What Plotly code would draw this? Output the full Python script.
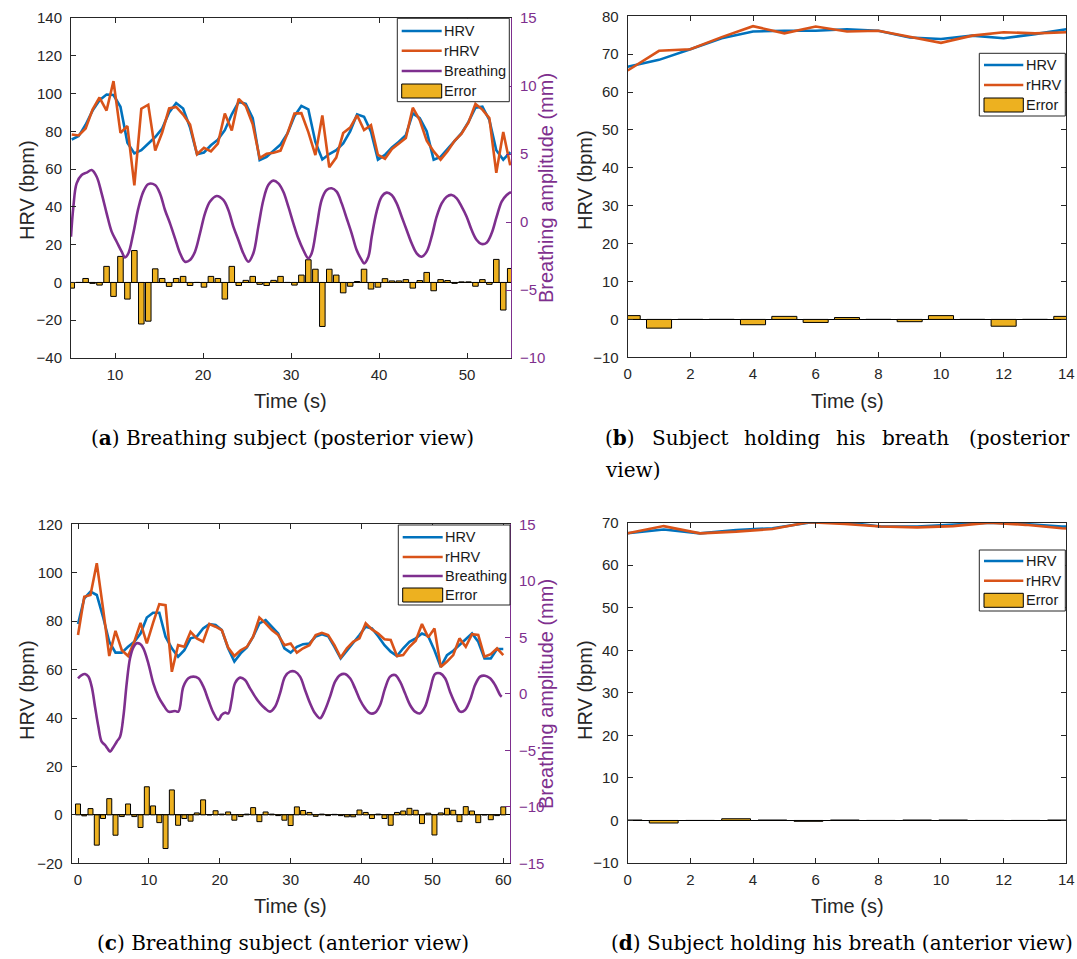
import plotly.graph_objects as go

# ---------------- data ----------------
# Panel (a): breathing subject, posterior view
t_a = [5.08, 5.87, 6.66, 7.45, 8.24, 9.04, 9.83, 10.62, 11.41, 12.20, 12.99, 13.78, 14.57, 15.36, 16.15, 16.95,
       17.74, 18.53, 19.32, 20.11, 20.90, 21.69, 22.48, 23.27, 24.06, 24.86, 25.65, 26.44, 27.23, 28.02, 28.81, 29.60,
       30.39, 31.18, 31.97, 32.77, 33.56, 34.35, 35.14, 35.93, 36.72, 37.51, 38.30, 39.09, 39.88, 40.68, 41.47, 42.26,
       43.05, 43.84, 44.63, 45.42, 46.21, 47.00, 47.79, 48.59, 49.38, 50.17, 50.96, 51.75, 52.54, 53.33, 54.12, 54.91]
hrv_a = [75.7, 77.5, 83.5, 91, 96.5, 99.5, 99.2, 93, 74, 68.3, 70, 73.6, 77, 81.5, 90, 95,
         92.1, 82, 67.9, 68.8, 72.6, 75.6, 80.6, 89, 95.6, 94.5, 87, 64.8, 66.5, 69.8, 73, 78.9,
         88, 93.5, 91.6, 74.4, 65.1, 68, 70, 73.6, 80, 89, 87.7, 79.8, 65, 67.5, 71.5, 74.5,
         78, 89.5, 87, 80, 65, 66.5, 70.5, 74.5, 79, 85, 92.5, 93, 86, 70, 65, 69]
rhrv_a = [78.3, 77.8, 81.5, 91.5, 97.9, 91, 106.6, 79.2, 82.8, 51.4, 92, 94.1, 69.8, 79.4, 92.1, 92.9,
          88.9, 83.6, 67.9, 71.3, 69.4, 73.5, 89.4, 80.5, 97.2, 93.4, 83.8, 65.8, 68.1, 68.7, 69.8, 78.9,
          89.4, 89.6, 79.6, 67.4, 88.4, 61, 66.1, 79.1, 82, 88.5, 80.7, 83.3, 67.5, 65.5, 70.7, 73.7,
          76.5, 92.5, 86, 75, 69.4, 65, 69.5, 75, 78.7, 84.7, 94.5, 91.5, 87, 58, 79.6, 62]
err_a = [-3, 0, 2.1, -0.5, -1.4, 8.5, -7.4, 13.8, -8.8, 16.9, -22, -20.5, 7.2, 2.1, -2.1, 2.1,
         3.2, -1.6, 0, -2.5, 3.2, 2.1, -8.8, 8.5, -1.6, 1.1, 3.2, -1, -1.6, 1.1, 3.2, 0,
         -1.4, 3.9, 12, 7, -23.3, 7, 3.9, -5.5, -2, 0.5, 7, -3.5, -2.5, 2, 0.8, 0.8,
         1.5, -3, 1, 5.3, -4.4, 1.5, 1, -0.5, 0.3, 0.3, -2, 1.5, -1, 12.2, -14.6, 7.4]
br_t_a = [5.0, 5.27, 5.64, 6.21, 6.78, 7.35, 7.92, 8.48, 9.05, 9.62, 10.19, 10.76, 11.14, 11.52, 12.08, 12.65,
          13.22, 13.79, 14.55, 15.11, 15.68, 16.25, 16.82, 17.39, 17.95, 18.52, 19.09, 19.66, 20.23, 20.80, 21.55,
          22.31, 22.88, 23.45, 24.02, 24.58, 25.15, 25.72, 26.29, 26.86, 27.42, 27.99, 28.56, 29.13, 29.70, 30.27,
          30.83, 31.40, 31.97, 32.35, 32.92, 33.48, 34.05, 34.62, 35.19, 35.76, 36.33, 36.89, 37.46, 38.03, 38.30,
          38.79, 39.17, 39.73, 40.30, 40.87, 41.44, 42.01, 42.58, 43.14, 43.71, 44.28, 44.85, 45.42, 45.98, 46.55,
          47.12, 47.69, 48.26, 48.83, 49.39, 49.96, 50.53, 51.10, 51.67, 52.23, 52.80, 53.37, 53.94, 54.51, 54.89, 55.0]
br_v_a = [-1.08, 1.13, 2.84, 3.46, 3.63, 3.82, 3.33, 2.1, 0.64, -0.71, -1.45, -2.18, -2.6, -2.3, -0.83, 1.0,
          2.23, 2.79, 2.72, 2.1, 0.88, -0.1, -1.2, -2.3, -2.92, -2.8, -2.18, -0.83, 0.64, 1.5, 1.91,
          1.62, 0.88, -0.34, -1.32, -2.3, -2.92, -2.3, -0.34, 1.62, 2.72, 3.04, 2.84, 2.23, 1.13, -0.1,
          -1.2, -2.06, -2.67, -2.3, -0.34, 1.62, 2.35, 2.48, 2.23, 1.37, 0.27, -0.83, -2.06, -2.79, -3.04,
          -2.55, -1.08, 0.76, 1.86, 2.16, 1.99, 1.37, 0.39, -0.59, -1.57, -2.3, -2.55, -2.18, -1.08, 0.39,
          1.37, 1.86, 1.99, 1.74, 1.13, 0.39, -0.59, -1.32, -1.62, -1.52, -0.83, 0.39, 1.5, 1.99, 2.16, 2.2]

# Panel (b): subject holding breath, posterior view
t_b = [0, 1, 2, 3, 4, 5, 6, 7, 8, 9, 10, 11, 12, 13, 14]
hrv_b = [66.7, 68.5, 71.3, 74.2, 76, 76.2, 76.2, 76.6, 76.2, 74.4, 74, 74.9, 74.2, 75.3, 76.6]
rhrv_b = [65.7, 70.9, 71.3, 74.5, 77.4, 75.5, 77.3, 76, 76.2, 74.6, 73, 74.9, 75.8, 75.5, 75.8]
err_b = [1.0, -2.3, 0, 0, -1.4, 0.8, -0.8, 0.5, 0, -0.6, 1.0, 0, -1.8, 0, 0.8]

# Panel (c): breathing subject, anterior view
t_c = [0, 0.88, 1.76, 2.65, 3.53, 4.41, 5.29, 6.18, 7.06, 7.94, 8.82, 9.71, 10.59, 11.47, 12.35, 13.24, 14.12,
       15.00, 15.88, 16.76, 17.65, 18.53, 19.41, 20.29, 21.18, 22.06, 22.94, 23.82, 24.71, 25.59, 26.47, 27.35,
       28.24, 29.12, 30.00, 30.88, 31.76, 32.65, 33.53, 34.41, 35.29, 36.18, 37.06, 37.94, 38.82, 39.71, 40.59,
       41.47, 42.35, 43.24, 44.12, 45.00, 45.88, 46.76, 47.65, 48.53, 49.41, 50.29, 51.18, 52.06, 52.94, 53.82,
       54.71, 55.59, 56.47, 57.35, 58.24, 59.12, 60.00]
hrv_c = [78.8, 89.4, 92.2, 90.8, 81.8, 71.5, 67, 67, 69.4, 71.5, 74.9, 81.5, 83.5, 83.5, 73.6, 68.8, 65.3,
         68, 72.9, 73.6, 77, 78.8, 78.4, 76.3, 68.8, 63.3, 66.7, 69.1, 73.6, 79.1, 80.4, 77.7,
         74.9, 68.8, 67, 69.4, 70.5, 70.8, 73.6, 74.6, 73.8, 69.4, 64.6, 67.8, 70.8, 74.3, 77.7,
         77, 73.8, 70.1, 67.4, 65.6, 68.8, 71.5, 72.9, 74.9, 73.8, 68, 61.1, 66, 67.8, 70.1,
         72.2, 74.9, 71.5, 64.6, 64.6, 68.5, 68.5]
rhrv_c = [74.3, 90.1, 90.8, 103.9, 85.3, 65.6, 76, 68, 65.6, 71.5, 79.3, 70.8, 79.3, 87, 86.6, 59.1, 70.1,
          69.4, 75.6, 72.9, 71.5, 78.8, 77.7, 76.3, 69.1, 65.6, 68, 69.4, 73.6, 81.5, 79.1, 76.3,
          74.3, 70.1, 70.8, 67, 68.8, 70.1, 74.3, 75.2, 74.3, 70.1, 65, 68.8, 71.5, 72.9, 79.1,
          76.6, 74.9, 72.5, 72.2, 65.6, 66, 69.4, 71.9, 78.8, 73.3, 77, 61.1, 63.3, 66, 72.9,
          69.4, 74.6, 74.3, 65.3, 66.4, 68.8, 66]
err_c = [4.5, -0.4, 2.6, -12.5, -1.5, 6.7, -8.4, -0.7, 4.5, -0.7, -5.2, 11.6, 3.7, -3.2, -13.9, 10.3, -4.3,
         -1.5, -2.6, 0.8, 6.2, 0, 1.7, 0.3, 1.2, -2.2, -0.7, 0.3, 3, -2.8, 1.2, 0.3,
         -0.3, -2.2, -4.4, 3.3, 1.8, 1.0, -0.6, 0.3, -0.3, 0.2, -0.3, -0.8, -0.8, 2.0, 1.0,
         -1.5, 0.3, -1.5, -4.3, 1.0, 1.6, 2.7, 1.9, -3.6, 0.7, -8.3, 0.8, 2.7, 1.9, -2.8,
         3.4, 1.6, -3.2, 0, -2.0, -0.3, 3.3]
br_t_c = [0, 0.52, 0.99, 1.46, 1.93, 2.40, 2.87, 3.34, 3.81, 4.14, 4.52, 4.89, 5.46, 5.93, 6.40, 6.87, 7.34,
          7.81, 8.28, 8.75, 9.22, 9.92, 10.63, 11.34, 12.04, 12.75, 13.22, 13.69, 14.16, 14.86, 15.57, 16.27,
          16.98, 17.69, 18.39, 19.10, 19.80, 20.27, 20.74, 21.21, 21.68, 22.15, 22.86, 23.57, 24.27, 24.98,
          25.68, 26.39, 27.09, 27.80, 28.50, 29.21, 29.92, 30.62, 31.33, 32.03, 32.74, 33.44, 34.15, 34.85,
          35.56, 36.27, 36.97, 37.68, 38.38, 39.09, 39.79, 40.50, 41.20, 41.91, 42.62, 43.32, 44.03, 44.73,
          45.44, 46.14, 46.85, 47.55, 48.26, 48.97, 49.67, 50.38, 51.08, 51.79, 52.49, 53.20, 53.91, 54.61,
          55.32, 56.02, 56.73, 57.43, 58.14, 58.84, 59.55, 59.78]
br_v_c = [1.37, 1.66, 1.75, 1.52, 0.63, -1.14, -2.9, -4.24, -4.53, -4.82, -5.12, -4.82, -4.24, -3.8, -2.02, 0.93, 3.14,
          4.11, 4.47, 4.41, 4.02, 2.7, 0.93, -0.25, -0.99, -1.58, -1.58, -1.52, -1.58, 0.63, 1.37, 1.52,
          1.37, 0.63, -0.55, -1.67, -2.32, -1.87, -1.67, -1.73, -0.55, 0.93, 1.43, 1.22, 0.48, -0.25,
          -0.84, -1.29, -1.58, -1.14, 0.04, 1.52, 1.96, 1.96, 1.52, 0.34, -0.84, -1.73, -2.17, -1.43,
          -0.25, 1.07, 1.66, 1.75, 1.37, 0.48, -0.55, -1.29, -1.73, -1.67, -0.99, 0.48, 1.52, 1.66,
          1.07, 0.04, -0.99, -1.58, -1.73, -1.14, 0.34, 1.75, 1.81, 1.37, 0.19, -0.84, -1.58, -1.43,
          -0.55, 0.78, 1.52, 1.6, 1.37, 0.78, -0.1, -0.25]

# Panel (d): subject holding breath, anterior view
t_d = [0, 1.15, 2.31, 3.46, 4.62, 5.77, 6.93, 8.08, 9.24, 10.39, 11.55, 12.70, 13.86, 15.01]
hrv_d = [67.5, 68.4, 67.5, 68.3, 68.7, 70, 70.1, 69.1, 69.1, 69.5, 70, 69.7, 69.1, 68.9]
rhrv_d = [67.5, 69.2, 67.5, 67.9, 68.5, 70.1, 69.7, 69.1, 68.9, 69.2, 70, 69.5, 68.7, 68.3]
err_d = [0.1, -0.6, 0, 0.4, 0.1, -0.2, 0.1, 0, 0.1, 0.1, 0, 0, 0.1, 0]

# tick values
xt_a = [10, 20, 30, 40, 50]
yt_a = [-40, -20, 0, 20, 40, 60, 80, 100, 120, 140]
y2t_a = [-10, -5, 0, 5, 10, 15]
xt_bd = [0, 2, 4, 6, 8, 10, 12, 14]
yt_b = [-10, 0, 10, 20, 30, 40, 50, 60, 70, 80]
xt_c = [0, 10, 20, 30, 40, 50, 60]
yt_c = [-20, 0, 20, 40, 60, 80, 100, 120]
y2t_c = [-15, -10, -5, 0, 5, 10, 15]
yt_d = [-10, 0, 10, 20, 30, 40, 50, 60, 70]

# ---------------- style ----------------
W, H = 1077, 959
BLUE, ORANGE, PURPLE, YELLOW, AX = '#0072BD', '#D95319', '#7E2F8E', '#EDB120', '#262626'
SANS = 'Liberation Sans, Arial, sans-serif'
SERIF = 'DejaVu Serif, serif'
LW = 2.6


def fx(p):
    return p / W


def fy(p):
    return 1 - p / H


fig = go.Figure()


def add_panel(xa, ya, t, hrv, rhrv, err, bw):
    fig.add_trace(go.Bar(x=t, y=err, width=bw, marker=dict(color=YELLOW, line=dict(color='black', width=1)),
                         xaxis=xa, yaxis=ya))
    fig.add_trace(go.Scatter(x=t, y=hrv, mode='lines', line=dict(color=BLUE, width=LW), xaxis=xa, yaxis=ya))
    fig.add_trace(go.Scatter(x=t, y=rhrv, mode='lines', line=dict(color=ORANGE, width=LW), xaxis=xa, yaxis=ya))


add_panel('x', 'y', t_a, hrv_a, rhrv_a, err_a, 0.63)
fig.add_trace(go.Scatter(x=br_t_a, y=br_v_a, mode='lines', line=dict(color=PURPLE, width=LW, shape='spline'),
                         xaxis='x', yaxis='y2'))
add_panel('x2', 'y3', t_b, hrv_b, rhrv_b, err_b, 0.8)
add_panel('x3', 'y4', t_c, hrv_c, rhrv_c, err_c, 0.7)
fig.add_trace(go.Scatter(x=br_t_c, y=br_v_c, mode='lines', line=dict(color=PURPLE, width=LW, shape='spline'),
                         xaxis='x3', yaxis='y5'))
add_panel('x4', 'y6', t_d, hrv_d, rhrv_d, err_d, 0.92)

base = dict(showgrid=False, showline=True, linecolor=AX, linewidth=1, ticks='inside', ticklen=5,
            tickcolor=AX, tickfont=dict(family=SANS, size=15, color=AX), zeroline=False, automargin=False)


def xax(dom, rng, tv, anchor):
    d = dict(base)
    d.update(domain=[fx(dom[0]), fx(dom[1])], range=rng, tickvals=tv, anchor=anchor, mirror='ticks',
             ticklabelstandoff=3)
    return d


def yax(dom, rng, tv, anchor, mirror):
    d = dict(base)
    d.update(domain=[fy(dom[1]), fy(dom[0])], range=rng, tickvals=tv, anchor=anchor, mirror=mirror,
             zeroline=True, zerolinecolor='black', zerolinewidth=1, ticklabelstandoff=5)
    return d


def yright(rng, tv, anchor, over):
    d = dict(base)
    d.update(range=rng, tickvals=tv, anchor=anchor, overlaying=over, side='right', linecolor=PURPLE,
             tickcolor=PURPLE, tickfont=dict(family=SANS, size=15, color=PURPLE), ticklabelstandoff=5)
    return d


fig.update_layout(
    template='none',
    width=W, height=H, margin=dict(l=0, r=0, t=0, b=0, autoexpand=False),
    paper_bgcolor='white', plot_bgcolor='white', showlegend=False,
    xaxis=xax((71, 511), [5, 55], xt_a, 'y'),
    yaxis=yax((18, 358), [-40, 140], yt_a, 'x', False),
    yaxis2=yright([-10, 15], y2t_a, 'x', 'y'),
    xaxis2=xax((627.7, 1066.3), [0, 14], xt_bd, 'y3'),
    yaxis3=yax((16.3, 357.3), [-10, 80], yt_b, 'x2', 'ticks'),
    xaxis3=xax((71.7, 510), [-0.89, 60.95], xt_c, 'y4'),
    yaxis4=yax((524.3, 863.3), [-20, 120], yt_c, 'x3', False),
    yaxis5=yright([-15, 15], y2t_c, 'x3', 'y4'),
    xaxis4=xax((627.7, 1066.3), [0, 14], xt_bd, 'y6'),
    yaxis6=yax((522.7, 863), [-10, 70], yt_d, 'x4', 'ticks'),
)

ann = []
shapes = []


def text(x, y, s, size=20, color=AX, angle=0, anchor='center', family=SANS):
    ann.append(dict(x=fx(x), y=fy(y), xref='paper', yref='paper', text=s, showarrow=False,
                    textangle=angle, xanchor=anchor, yanchor='middle',
                    font=dict(family=family, size=size, color=color)))


# axis titles
text(27, 190, 'HRV (bpm)', angle=-90)
text(291, 401, 'Time (s)')
text(546, 188, 'Breathing amplitude (mm)', angle=-90, color=PURPLE)
text(585, 180, 'HRV (bpm)', angle=-90)
text(847, 401, 'Time (s)')
text(27, 690, 'HRV (bpm)', angle=-90)
text(291, 906, 'Time (s)')
text(546, 694, 'Breathing amplitude (mm)', angle=-90, color=PURPLE)
text(585, 690, 'HRV (bpm)', angle=-90)
text(847, 906, 'Time (s)')


# legends
def legend(x0, x1, y0, y1, lx0, lx1, tx, rows):
    shapes.append(dict(type='rect', xref='paper', yref='paper', x0=fx(x0), x1=fx(x1), y0=fy(y1), y1=fy(y0),
                       fillcolor='white', line=dict(color=AX, width=1), layer='above'))
    for name, color, yy in rows:
        if name == 'Error':
            shapes.append(dict(type='rect', xref='paper', yref='paper', x0=fx(lx0), x1=fx(lx1),
                               y0=fy(yy + 7), y1=fy(yy - 7), fillcolor=YELLOW,
                               line=dict(color='black', width=1), layer='above'))
        else:
            shapes.append(dict(type='line', xref='paper', yref='paper', x0=fx(lx0), x1=fx(lx1),
                               y0=fy(yy), y1=fy(yy), line=dict(color=color, width=LW), layer='above'))
        text(tx, yy, name, size=14.5, color='#1a1a1a', anchor='left')


legend(397.3, 509.3, 18.3, 101.7, 401.7, 441.7, 441.5,
       [('HRV', BLUE, 31), ('rHRV', ORANGE, 50.7), ('Breathing', PURPLE, 71), ('Error', None, 91)])
legend(979.3, 1065.3, 53.3, 116, 984, 1023.3, 1023.5,
       [('HRV', BLUE, 65), ('rHRV', ORANGE, 85), ('Error', None, 105)])
legend(398.3, 510, 525, 605, 402.7, 442.7, 442.5,
       [('HRV', BLUE, 537.3), ('rHRV', ORANGE, 557), ('Breathing', PURPLE, 576), ('Error', None, 595)])
legend(979.3, 1065.3, 550, 611, 984, 1023.3, 1023.5,
       [('HRV', BLUE, 561), ('rHRV', ORANGE, 580.7), ('Error', None, 600.3)])

# captions
CS = 20
text(282, 438, '(<b>a</b>) Breathing subject (posterior view)', size=CS, color='black', family=SERIF)
for word, xw in [('(<b>b</b>)', 603), ('Subject', 650), ('holding', 742), ('his', 834), ('breath', 880)]:
    text(xw, 438, word, size=CS, color='black', family=SERIF, anchor='left')
ann.append(dict(x=fx(1072), y=fy(438), xref='paper', yref='paper', text='(posterior', showarrow=False,
                xanchor='right', yanchor='middle', font=dict(family=SERIF, size=CS, color='black')))
text(603, 470, 'view)', size=CS, color='black', family=SERIF, anchor='left')
text(283, 943, '(<b>c</b>) Breathing subject (anterior view)', size=CS, color='black', family=SERIF)
text(842, 943, '(<b>d</b>) Subject holding his breath (anterior view)', size=CS, color='black', family=SERIF)

fig.update_layout(annotations=ann, shapes=shapes)
fig.write_html('out.html')
